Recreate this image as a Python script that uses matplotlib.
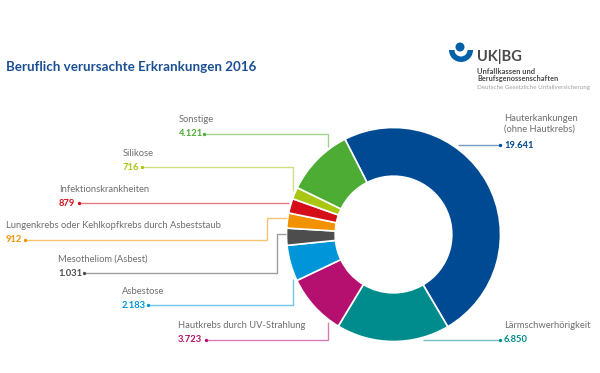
import matplotlib
matplotlib.use("Agg")
import matplotlib.pyplot as plt
from matplotlib.patches import Circle, Wedge

plt.rcParams['font.family'] = ['Lato', 'DejaVu Sans']

# ---- data ----
categories = ["Hauterkankungen\n(ohne Hautkrebs)", "Lärmschwerhörigkeit",
              "Hautkrebs durch UV-Strahlung", "Asbestose", "Mesotheliom (Asbest)",
              "Lungenkrebs oder Kehlkopfkrebs durch Asbeststaub",
              "Infektionskrankheiten", "Silikose", "Sonstige"]
values = [19641, 6850, 3723, 2183, 1031, 912, 879, 716, 4121]
colors = ["#004a93", "#008c8c", "#b5106f", "#0095d8", "#4d4d4d",
          "#f39200", "#d40f19", "#a9c613", "#4cac33"]
title = "Beruflich verursachte Erkrankungen 2016"

W, H = 600, 373
fig = plt.figure(figsize=(6.0, 3.73), dpi=100)
ax = fig.add_axes([0, 0, 1, 1])

def Y(y):
    return H - y

cx, cy, R = 393.5, 234.5, 107
ax.pie(values, colors=colors, startangle=117, counterclock=False,
       center=(cx, Y(cy)), radius=R,
       wedgeprops=dict(width=R * 0.455, edgecolor="white", linewidth=1.2))
ax.set_xlim(0, W)
ax.set_ylim(0, H)
ax.set_aspect("equal")
ax.axis("off")

# ---- label layout (pixel coords, y from top) ----
# (text x, label y, value y, leader path, dot index)
layout = [
    (504, 124, 145, [(458, 145), (500, 145)], -1),
    (504, 325, 340, [(423, 340), (500, 340)], -1),
    (178, 326, 340, [(206, 340), (328, 340), (328, 322)], 0),
    (122, 291, 305, [(148, 305), (293, 305), (293, 279)], 0),
    (58, 259, 273, [(84, 273), (277, 273), (277, 234), (286, 234)], 0),
    (6, 226, 240, [(25, 240), (267, 240), (267, 218), (287, 218)], 0),
    (59, 189, 203, [(79, 203), (289, 203)], 0),
    (123, 153, 167, [(142, 167), (293, 167), (293, 191)], 0),
    (179, 120, 134, [(204, 134), (328, 134), (328, 147)], 0),
]

label_color = "#6e6e6e"
fs_label = 6.75
for cat, val, col, (tx, ly, vy, path, di) in zip(categories, values, colors, layout):
    ax.text(tx, Y(ly), cat, color=label_color, fontsize=fs_label, ha="left",
            va="center", linespacing=1.3)
    ax.text(tx, Y(vy), f"{val:,}".replace(",", "."),
            color=col, fontsize=fs_label, fontweight="bold", ha="left", va="center")
    xs = [p[0] for p in path]
    ys = [Y(p[1]) for p in path]
    ax.plot(xs, ys, color=col, alpha=0.55, lw=1.0, solid_capstyle="butt")
    dot = path[di]
    ax.plot([dot[0]], [Y(dot[1])], "o", color=col, ms=2.4, mew=0)

# ---- title ----
ax.text(6, Y(67), title, color="#1b4f93", fontsize=9.6, fontweight="bold",
        ha="left", va="center")

# ---- logo ----
logo_blue = "#0060a8"
ax.add_patch(Circle((460, Y(47)), 4.5, color=logo_blue, lw=0))
ax.add_patch(Wedge((461, Y(50)), 12, 180, 360, width=5.5, color=logo_blue, lw=0))
ax.text(477, Y(57), "UK|BG", color="#4a4a4a", fontsize=10.5, fontweight="bold",
        ha="left", va="center")
ax.text(477, Y(71), "Unfallkassen und", color="#4a4a4a", fontsize=5.5,
        fontweight="bold", ha="left", va="center")
ax.text(477, Y(79), "Berufsgenossenschaften", color="#4a4a4a", fontsize=5.3,
        fontweight="bold", ha="left", va="center")
ax.text(477, Y(87), "Deutsche Gesetzliche Unfallversicherung", color="#a0a0a0",
        fontsize=4.5, ha="left", va="center")

fig.savefig("out.png", dpi=100, facecolor="white")
